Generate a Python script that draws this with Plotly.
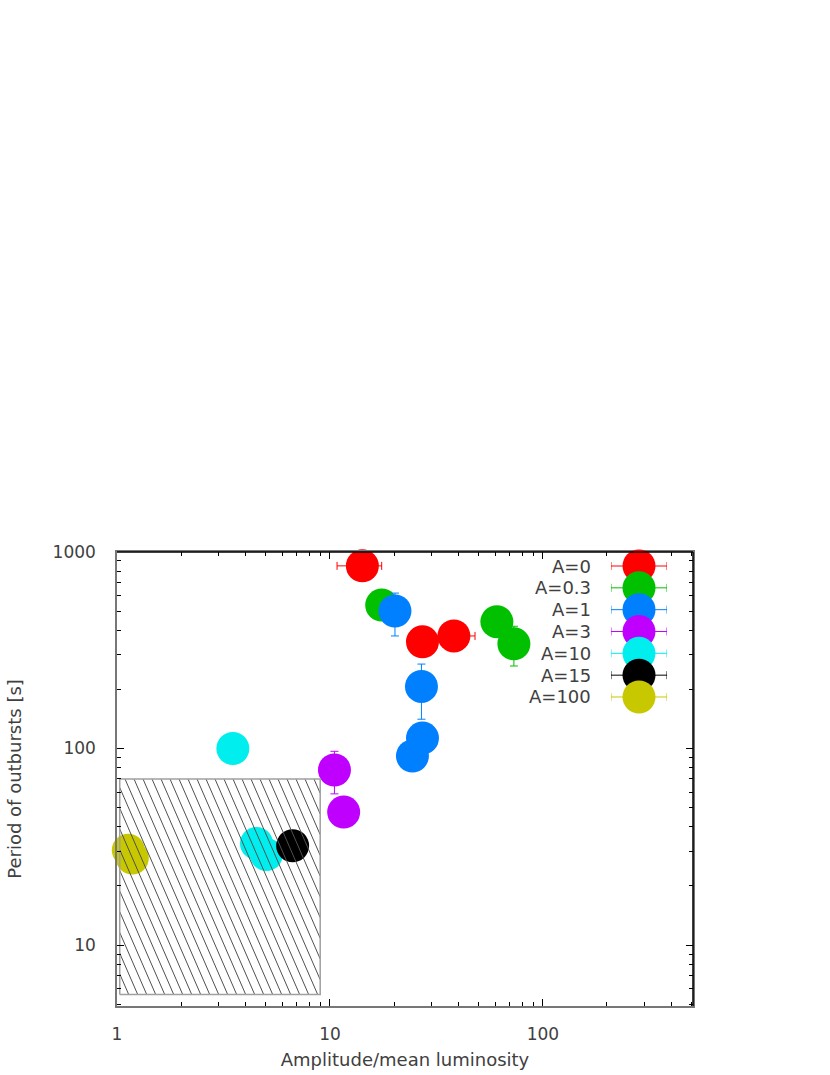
import numpy as np
import plotly.graph_objs as go

names = ['A=0', 'A=0.3', 'A=1', 'A=3', 'A=10', 'A=15', 'A=100']
colors = ['#ff0000', '#00c000', '#0080ff', '#c000ff', '#00eeee', '#000000', '#c8c800']

# amplitude / mean luminosity
amp = [
    [14.2, 27.2, 38.2],
    [17.5, 60.8, 73.1],
    [20.2, 26.9, 27.2, 24.4],
    [10.5, 11.6],
    [3.5, 4.52, 5.03],
    [6.68],
    [1.13, 1.18],
]
# period of outbursts [s]
period = [
    [850, 349, 374],
    [537, 442, 341],
    [501, 207, 113, 91.6],
    [77.8, 47.5],
    [100, 32.9, 28.9],
    [32],
    [30.4, 27.7],
]
# error bars (plus / minus)
amp_err_plus = [[3.3, 0, 9.8], [0, 0, 0], [0, 0, 0, 0], [0, 0], [0, 0, 0], [0], [0, 0]]
amp_err_minus = [[3.4, 0, 9.8], [0, 0, 0], [0, 0, 0, 0], [0, 0], [0, 0, 0], [0], [0, 0]]
per_err_plus = [[0, 0, 0], [0, 0, 78], [117, 62, 0, 0], [19, 0], [0, 0, 0], [0], [0, 0]]
per_err_minus = [[0, 0, 0], [0, 0, 78], [127, 66, 0, 0], [19, 0], [0, 0, 0], [0], [0, 0]]

# excluded region (hatched box)
box_x = [1.03, 9.0]
box_y = [5.6, 70]

txt = '#404040'
font = 'DejaVu Sans'
msize = 33

fig = go.Figure()

for i, nm in enumerate(names):
    fig.add_trace(go.Scatter(
        x=amp[i], y=period[i], mode='markers', name=nm,
        marker=dict(size=msize, color=colors[i], line=dict(width=0)),
        error_x=dict(type='data', array=amp_err_plus[i], arrayminus=amp_err_minus[i],
                     color=colors[i], thickness=1, width=4),
        error_y=dict(type='data', array=per_err_plus[i], arrayminus=per_err_minus[i],
                     color=colors[i], thickness=1, width=4),
        cliponaxis=False, showlegend=False,
    ))

# hatching of the box, computed in pixel-like log units
px_dec_x, px_dec_y = 213.0, 196.5
slope = 2.3
spacing = 9.0
u0, u1 = np.log10(box_x[0]) * px_dec_x, np.log10(box_x[1]) * px_dec_x
v0, v1 = np.log10(box_y[0]) * px_dec_y, np.log10(box_y[1]) * px_dec_y
hx, hy = [], []
k = u0 + v0 / slope
while k < u1 + v1 / slope:
    # u = k - v / slope
    ua, va = k - v1 / slope, v1
    ub, vb = k - v0 / slope, v0
    if ua < u0:
        ua, va = u0, (k - u0) * slope
    if ub > u1:
        ub, vb = u1, (k - u1) * slope
    if ua <= ub and va >= vb:
        hx += [10 ** (ua / px_dec_x), 10 ** (ub / px_dec_x), None]
        hy += [10 ** (va / px_dec_y), 10 ** (vb / px_dec_y), None]
    k += spacing

fig.add_trace(go.Scatter(x=hx, y=hy, mode='lines', line=dict(color='#505050', width=1),
                         hoverinfo='skip', showlegend=False))
fig.add_trace(go.Scatter(
    x=[box_x[0], box_x[1], box_x[1], box_x[0], box_x[0]],
    y=[box_y[0], box_y[0], box_y[1], box_y[1], box_y[0]],
    mode='lines', line=dict(color='#a0a0a0', width=1.5), hoverinfo='skip', showlegend=False))

# custom legend (text left, symbol right)
for i, nm in enumerate(names):
    fig.add_trace(go.Scatter(
        x=[0], y=[i], mode='markers', xaxis='x2', yaxis='y2',
        marker=dict(size=msize, color=colors[i]),
        error_x=dict(type='data', array=[1], color=colors[i], thickness=1, width=4),
        cliponaxis=False, showlegend=False, hoverinfo='skip',
    ))
    fig.add_annotation(x=-1, y=i, xref='x2', yref='y2', text=nm, showarrow=False,
                       xanchor='right', yanchor='middle', xshift=-18,
                       font=dict(family=font, size=18, color=txt))

fig.update_layout(
    width=830, height=1075,
    margin=dict(l=117, r=137, t=552, b=69),
    paper_bgcolor='white', plot_bgcolor='white',
    showlegend=False,
    font=dict(family=font, size=17, color=txt),
    xaxis=dict(
        type='log', range=[0, 2.705], dtick=1, tickformat='d', automargin=False,
        showgrid=False, zeroline=False,
        showline=True, linecolor='#777777', linewidth=1.5, mirror='allticks',
        ticks='inside', ticklen=7, tickcolor='#000000',
        minor=dict(ticks='inside', ticklen=4, tickcolor='#000000', showgrid=False),
        ticklabelstandoff=12,
        title=dict(text='Amplitude/mean luminosity', font=dict(size=18, color=txt), standoff=10),
    ),
    yaxis=dict(
        type='log', range=[0.69, 3], dtick=1, tickformat='d', automargin=False,
        showgrid=False, zeroline=False,
        showline=True, linecolor='#777777', linewidth=1.5, mirror='allticks',
        ticks='inside', ticklen=7, tickcolor='#000000',
        minor=dict(ticks='inside', ticklen=4, tickcolor='#000000', showgrid=False),
        ticklabelstandoff=16,
        title=dict(text='Period of outbursts [s]', font=dict(size=18, color=txt), standoff=26),
    ),
    xaxis2=dict(domain=[0.8576, 0.9549], range=[-1, 1], visible=False,
                anchor='y2', fixedrange=True),
    yaxis2=dict(domain=[0.6566, 0.9932], range=[6.5, -0.5], visible=False,
                anchor='x2', fixedrange=True),
    shapes=[
        dict(type='line', xref='paper', yref='paper', x0=0, x1=1, y0=1, y1=1,
             line=dict(color='#000000', width=1.5), layer='above'),
        dict(type='line', xref='paper', yref='paper', x0=1, x1=1, y0=0, y1=1,
             line=dict(color='#000000', width=1.5), layer='above'),
    ],
)

fig.write_html('out.html', config={'displayModeBar': False},
               post_script="document.body.style.margin='0';")
